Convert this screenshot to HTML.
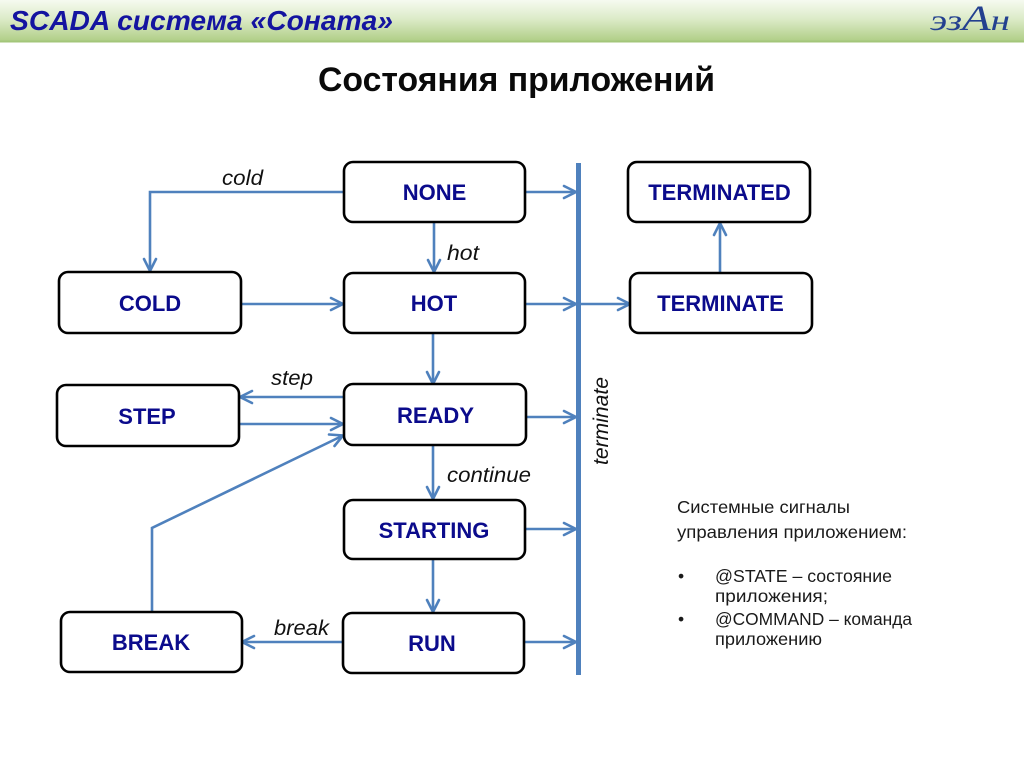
<!DOCTYPE html>
<html>
<head>
<meta charset="utf-8">
<style>
  html,body{margin:0;padding:0;background:#fff;}
  body{width:1024px;height:767px;overflow:hidden;}
  svg{display:block;}
  .box{fill:#fff;stroke:#000;stroke-width:2.6;}
  .bl{font-family:"Liberation Sans","Noto Sans CJK SC",sans-serif;font-weight:bold;font-size:22px;fill:#0b0b8c;text-anchor:middle;}
  .ln{stroke:#4f81bd;stroke-width:2.6;fill:none;}
  .ah{stroke:#4f81bd;stroke-width:2.6;fill:none;stroke-linejoin:miter;stroke-linecap:round;}
  .lab{font-family:"Liberation Sans","Noto Sans CJK SC",sans-serif;font-style:italic;font-size:21px;fill:#111;}
  .rt{font-family:"Liberation Sans","Noto Sans CJK SC",sans-serif;font-size:17.5px;fill:#1a1a1a;}
</style>
</head>
<body>
<svg width="1024" height="767" viewBox="0 0 1024 767" xmlns="http://www.w3.org/2000/svg">
  <defs>
    <linearGradient id="hg" x1="0" y1="0" x2="0" y2="1">
      <stop offset="0" stop-color="#f6faf0"/>
      <stop offset="0.45" stop-color="#dcebc8"/>
      <stop offset="1" stop-color="#aecd84"/>
    </linearGradient>
  </defs>
  <rect x="0" y="0" width="1024" height="767" fill="#fff"/>
  <!-- header -->
  <rect x="0" y="0" width="1024" height="42" fill="url(#hg)"/>
  <rect x="0" y="40.5" width="1024" height="2" fill="#a3c67a"/>
  <text x="10" y="30" textLength="383" lengthAdjust="spacingAndGlyphs" font-family="Liberation Sans, Noto Sans CJK SC, sans-serif" font-weight="bold" font-style="italic" font-size="28" fill="#1414a0">SCADA система «Соната»</text>
  <text x="930" y="30" textLength="80" lengthAdjust="spacingAndGlyphs" font-family="Liberation Serif, Noto Serif CJK SC, serif" font-style="italic" font-size="30" fill="#23408f">эз<tspan font-size="36">А</tspan>н</text>

  <!-- title -->
  <text x="318" y="91" textLength="397" lengthAdjust="spacingAndGlyphs" font-family="Liberation Sans, Noto Sans CJK SC, sans-serif" font-weight="bold" font-size="34" fill="#0a0a0a">Состояния приложений</text>

  <!-- vertical bar -->
  <rect x="576" y="163" width="5" height="512" fill="#4f81bd"/>

  <!-- connectors -->
  <polyline class="ln" points="344,192 150,192 150,270"/>
  <polyline class="ah" points="144,259 150,271 156,259"/>
  <line class="ln" x1="434" y1="222" x2="434" y2="271"/>
  <polyline class="ah" points="428,260 434,272 440,260"/>
  <line class="ln" x1="241" y1="304" x2="342" y2="304"/>
  <polyline class="ah" points="331,298 343,304 331,310"/>
  <line class="ln" x1="433" y1="333" x2="433" y2="383"/>
  <polyline class="ah" points="427,372 433,384 439,372"/>
  <line class="ln" x1="344" y1="397" x2="241" y2="397"/>
  <polyline class="ah" points="252,391 240,397 252,403"/>
  <line class="ln" x1="239" y1="424" x2="342" y2="424"/>
  <polyline class="ah" points="331,418 343,424 331,430"/>
  <polyline class="ln" points="152,612 152,528 342,436"/>
  <polyline class="ah" points="329,434.5 343,435.5 334.5,446"/>
  <line class="ln" x1="433" y1="445" x2="433" y2="498"/>
  <polyline class="ah" points="427,487 433,499 439,487"/>
  <line class="ln" x1="433" y1="560" x2="433" y2="611"/>
  <polyline class="ah" points="427,600 433,612 439,600"/>
  <line class="ln" x1="343" y1="642" x2="243" y2="642"/>
  <polyline class="ah" points="254,636 242,642 254,648"/>
  <line class="ln" x1="525" y1="192" x2="575" y2="192"/>
  <polyline class="ah" points="564,186 576,192 564,198"/>
  <line class="ln" x1="525" y1="304" x2="628" y2="304"/>
  <polyline class="ah" points="564,298 576,304 564,310"/>
  <polyline class="ah" points="618,298 630,304 618,310"/>
  <line class="ln" x1="526" y1="417" x2="575" y2="417"/>
  <polyline class="ah" points="564,411 576,417 564,423"/>
  <line class="ln" x1="525" y1="529" x2="575" y2="529"/>
  <polyline class="ah" points="564,523 576,529 564,535"/>
  <line class="ln" x1="525" y1="642" x2="575" y2="642"/>
  <polyline class="ah" points="564,636 576,642 564,648"/>
  <line class="ln" x1="720" y1="273" x2="720" y2="224"/>
  <polyline class="ah" points="714,235 720,223 726,235"/>

  <!-- boxes -->
  <rect class="box" x="344" y="162" width="181" height="60" rx="9"/>
  <rect class="box" x="59" y="272" width="182" height="61" rx="9"/>
  <rect class="box" x="344" y="273" width="181" height="60" rx="9"/>
  <rect class="box" x="57" y="385" width="182" height="61" rx="9"/>
  <rect class="box" x="344" y="384" width="182" height="61" rx="9"/>
  <rect class="box" x="344" y="500" width="181" height="59" rx="9"/>
  <rect class="box" x="61" y="612" width="181" height="60" rx="9"/>
  <rect class="box" x="343" y="613" width="181" height="60" rx="9"/>
  <rect class="box" x="628" y="162" width="182" height="60" rx="9"/>
  <rect class="box" x="630" y="273" width="182" height="60" rx="9"/>

  <!-- box labels -->
  <text class="bl" x="434.5" y="200">NONE</text>
  <text class="bl" x="150" y="311">COLD</text>
  <text class="bl" x="434" y="311">HOT</text>
  <text class="bl" x="147" y="424">STEP</text>
  <text class="bl" x="435.5" y="423">READY</text>
  <text class="bl" x="434" y="538">STARTING</text>
  <text class="bl" x="151" y="650">BREAK</text>
  <text class="bl" x="432" y="651">RUN</text>
  <text class="bl" x="719.5" y="200">TERMINATED</text>
  <text class="bl" x="720.5" y="311">TERMINATE</text>

  <!-- connector labels -->
  <text class="lab" x="222" y="185" textLength="41" lengthAdjust="spacingAndGlyphs">cold</text>
  <text class="lab" x="447" y="260" textLength="32" lengthAdjust="spacingAndGlyphs">hot</text>
  <text class="lab" x="271" y="385" textLength="42" lengthAdjust="spacingAndGlyphs">step</text>
  <text class="lab" x="447" y="482" textLength="84" lengthAdjust="spacingAndGlyphs">continue</text>
  <text class="lab" x="274" y="635" textLength="55" lengthAdjust="spacingAndGlyphs">break</text>
  <text class="lab" transform="translate(608,465) rotate(-90)" x="0" y="0" textLength="88" lengthAdjust="spacingAndGlyphs">terminate</text>

  <!-- right text -->
  <text class="rt" x="677" y="513" textLength="173" lengthAdjust="spacingAndGlyphs">Системные сигналы</text>
  <text class="rt" x="677" y="538" textLength="230" lengthAdjust="spacingAndGlyphs">управления  приложением:</text>
  <text class="rt" x="678" y="582">•</text>
  <text class="rt" x="715" y="582" textLength="177" lengthAdjust="spacingAndGlyphs">@STATE – состояние</text>
  <text class="rt" x="715" y="602" textLength="113" lengthAdjust="spacingAndGlyphs">приложения;</text>
  <text class="rt" x="678" y="625">•</text>
  <text class="rt" x="715" y="625" textLength="197" lengthAdjust="spacingAndGlyphs">@COMMAND – команда</text>
  <text class="rt" x="715" y="645" textLength="107" lengthAdjust="spacingAndGlyphs">приложению</text>
</svg>
</body>
</html>
